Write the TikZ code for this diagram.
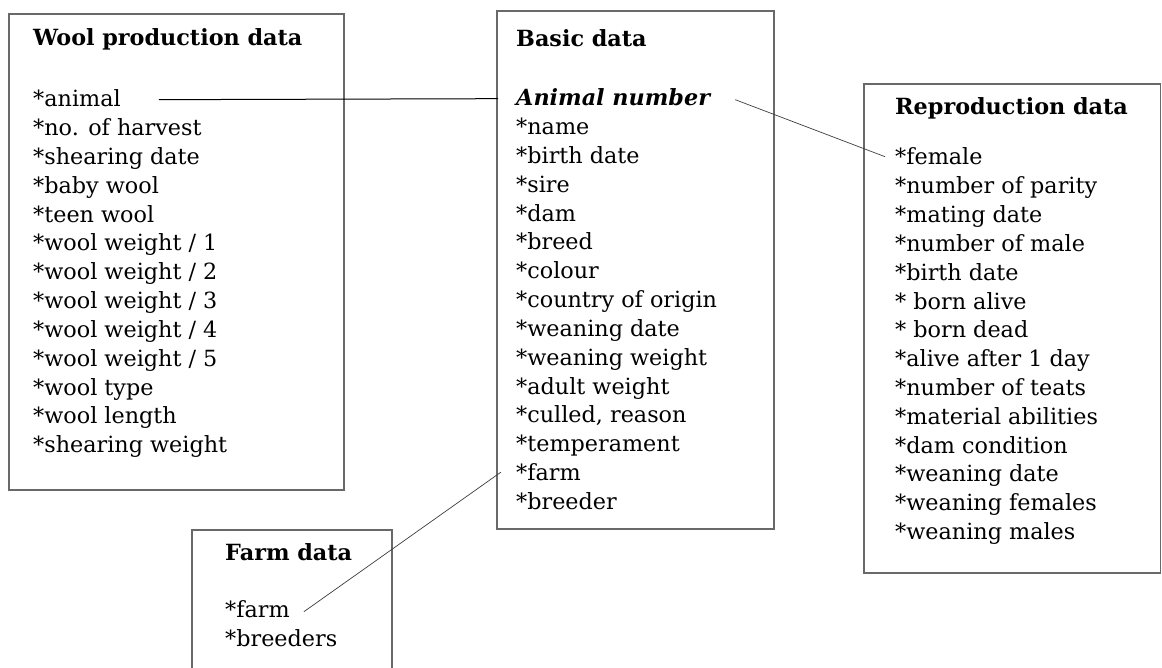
\documentclass[tikz,border=0pt]{standalone}
\usepackage{fontspec}
\setmainfont{DejaVu Serif}
\usepackage{tikz}
\usetikzlibrary{positioning,calc}
\definecolor{boxgray}{RGB}{105,105,105}
\definecolor{linkgray}{RGB}{60,60,60}
\tikzset{
  tablebox/.style={draw=boxgray,line width=1.3pt},
  boxtitle/.style={anchor=base west,inner sep=0pt,font=\fontsize{22.3}{26}\selectfont\bfseries},
  keyfield/.style={anchor=base west,inner sep=0pt,font=\fontsize{22.3}{26}\selectfont\bfseries\itshape},
  field/.style={anchor=base west,inner sep=0pt,font=\fontsize{22.3}{26}\selectfont},
  link/.style={draw=black,line width=1pt},
  thinlink/.style={draw=linkgray,line width=0.7pt}
}

\begin{document}
\begin{tikzpicture}[x=1pt,y=-1pt]
  \useasboundingbox (0,0) rectangle (1162,668);
  \clip (0,0) rectangle (1162,668);

  % the four tables
  \draw[tablebox] (9,14) rectangle (344,490);
  \draw[tablebox] (497,11) rectangle (774,529);
  \draw[tablebox] (864,84) rectangle (1160.5,573);
  \draw[tablebox] (192,530) rectangle (392,690);

  % Wool production data
  \node[boxtitle] (wtitle) at (33,46) {Wool production data};
  \foreach \t [count=\i from 0] in {*animal,*no. of harvest,*shearing date,
      *baby wool,*teen wool,*wool weight / 1,*wool weight / 2,
      *wool weight / 3,*wool weight / 4,*wool weight / 5,*wool type,
      *wool length,*shearing weight}
    \node[field] (w\i) at (33,107+28.8*\i) {\t};

  % Basic data
  \node[boxtitle] (btitle) at (516,47) {Basic data};
  \node[keyfield] (bkey) at (516,106) {Animal number};
  \foreach \t [count=\i] in {*name,*birth date,*sire,*dam,*breed,*colour,
      *country of origin,*weaning date,*weaning weight,*adult weight,
      {*culled, reason},*temperament,*farm,*breeder}
    \node[field] (b\i) at (516,106+28.8*\i) {\t};

  % Reproduction data
  \node[boxtitle] (rtitle) at (895,115) {Reproduction data};
  \foreach \t [count=\i from 0] in {*female,*number of parity,*mating date,
      *number of male,*birth date,* born alive,* born dead,
      *alive after 1 day,*number of teats,*material abilities,
      *dam condition,*weaning date,*weaning females,*weaning males}
    \node[field] (r\i) at (895,165+28.8*\i) {\t};

  % Farm data
  \node[boxtitle] (ftitle) at (225,560) {Farm data};
  \node[field] (f0) at (225,617) {*farm};
  \node[field] (f1) at (225,646) {*breeders};

  % links
  \draw[link] ([xshift=38pt,yshift=-1pt]w0.east) -- ([xshift=-18pt,yshift=-1pt]bkey.west);
  \draw[thinlink] ([xshift=25pt,yshift=-2pt]bkey.east) -- ([xshift=-10pt]r0.west);
  \draw[thinlink] ([xshift=14pt,yshift=-3pt]f0.east) -- ([xshift=-15pt]b13.west);
\end{tikzpicture}
\end{document}
